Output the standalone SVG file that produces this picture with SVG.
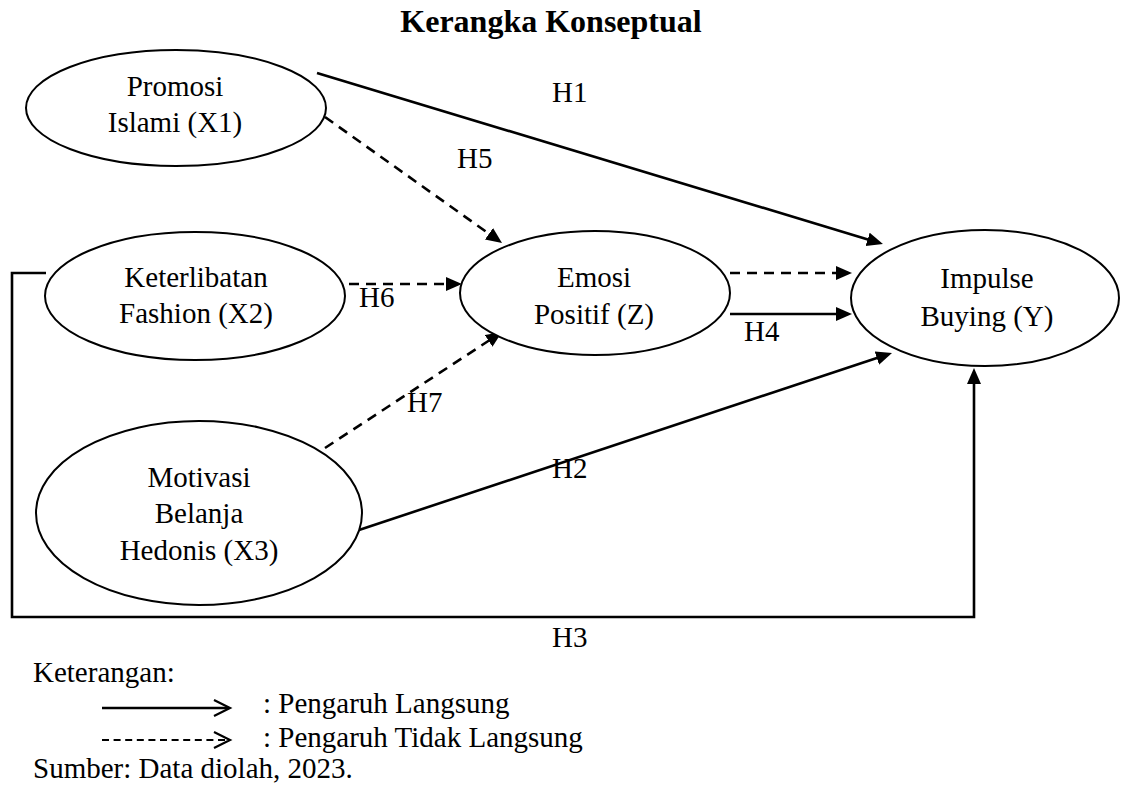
<svg xmlns="http://www.w3.org/2000/svg" width="1123" height="787" viewBox="0 0 1123 787">
  <style>
    text { font-family: "Liberation Serif", "Times New Roman", serif; fill: #000; }
    .title { font-size: 32px; font-weight: bold; text-anchor: middle; }
    .node text { font-size: 29px; text-anchor: middle; }
    .node ellipse { fill: #fff; stroke: #000; stroke-width: 2; }
    .lbl { font-size: 29px; }
    .legend { font-size: 29px; }
    .conn { fill: none; stroke: #000; stroke-width: 2.6; }
    .dash { stroke-dasharray: 10 7; }
    .arrow { marker-end: url(#head); }
  </style>
  <defs>
    <marker id="head" markerUnits="userSpaceOnUse" markerWidth="18" markerHeight="16" refX="8" refY="7" orient="auto">
      <path d="M0,0 L16,7 L0,14 z" fill="#000"/>
    </marker>
  </defs>

  <rect width="1123" height="787" fill="#fff"/>

  <text class="title" x="551" y="32">Kerangka Konseptual</text>

  <!-- connectors -->
  <g id="connectors">
    <line class="conn arrow" x1="317" y1="73" x2="875.3" y2="241.7"/>
    <line class="conn dash arrow" x1="325" y1="117" x2="495.5" y2="238.4"/>
    <line class="conn dash arrow" x1="349" y1="284" x2="454" y2="284"/>
    <line class="conn dash arrow" x1="325" y1="448" x2="495.3" y2="336.4"/>
    <line class="conn arrow" x1="359" y1="530" x2="884.4" y2="355.5"/>
    <line class="conn dash arrow" x1="730" y1="273" x2="844" y2="273"/>
    <line class="conn arrow" x1="730" y1="314" x2="844" y2="314"/>
    <path class="conn arrow" d="M46,273 H12 V617 H974 V376"/>
  </g>

  <!-- hypothesis labels -->
  <g id="labels">
    <text class="lbl" x="552" y="102">H1</text>
    <text class="lbl" x="457" y="168">H5</text>
    <text class="lbl" x="359" y="307">H6</text>
    <text class="lbl" x="407" y="412">H7</text>
    <text class="lbl" x="552" y="478">H2</text>
    <text class="lbl" x="744" y="341">H4</text>
    <text class="lbl" x="552" y="647">H3</text>
  </g>

  <!-- variables -->
  <g id="x1" class="node">
    <ellipse cx="176" cy="108" rx="150" ry="58"/>
    <text x="175" y="96">Promosi</text>
    <text x="175" y="132">Islami (X1)</text>
  </g>
  <g id="x2" class="node">
    <ellipse cx="195" cy="296" rx="150" ry="64"/>
    <text x="196" y="287">Keterlibatan</text>
    <text x="196" y="323">Fashion (X2)</text>
  </g>
  <g id="x3" class="node">
    <ellipse cx="199" cy="513" rx="163" ry="92"/>
    <text x="199" y="487">Motivasi</text>
    <text x="199" y="523">Belanja</text>
    <text x="199" y="560">Hedonis (X3)</text>
  </g>
  <g id="z" class="node">
    <ellipse cx="595" cy="293" rx="135" ry="62"/>
    <text x="594" y="287">Emosi</text>
    <text x="594" y="324">Positif (Z)</text>
  </g>
  <g id="y" class="node">
    <ellipse cx="985" cy="298" rx="134" ry="68"/>
    <text x="987" y="288">Impulse</text>
    <text x="987" y="326">Buying (Y)</text>
  </g>

  <!-- legend -->
  <g id="legend">
    <text class="legend" x="33" y="682">Keterangan:</text>
    <line x1="102" y1="708" x2="229" y2="708" stroke="#000" stroke-width="2.6"/>
    <polyline points="214,700 230,708 214,716" fill="none" stroke="#000" stroke-width="2.2"/>
    <text class="legend" x="263" y="713">: Pengaruh Langsung</text>
    <line x1="102" y1="740" x2="229" y2="740" stroke="#000" stroke-width="2.2" stroke-dasharray="7 4.6"/>
    <polyline points="214,732 230,740 214,748" fill="none" stroke="#000" stroke-width="2.2"/>
    <text class="legend" x="263" y="747">: Pengaruh Tidak Langsung</text>
    <text class="legend" x="33" y="778">Sumber: Data diolah, 2023.</text>
  </g>
</svg>
